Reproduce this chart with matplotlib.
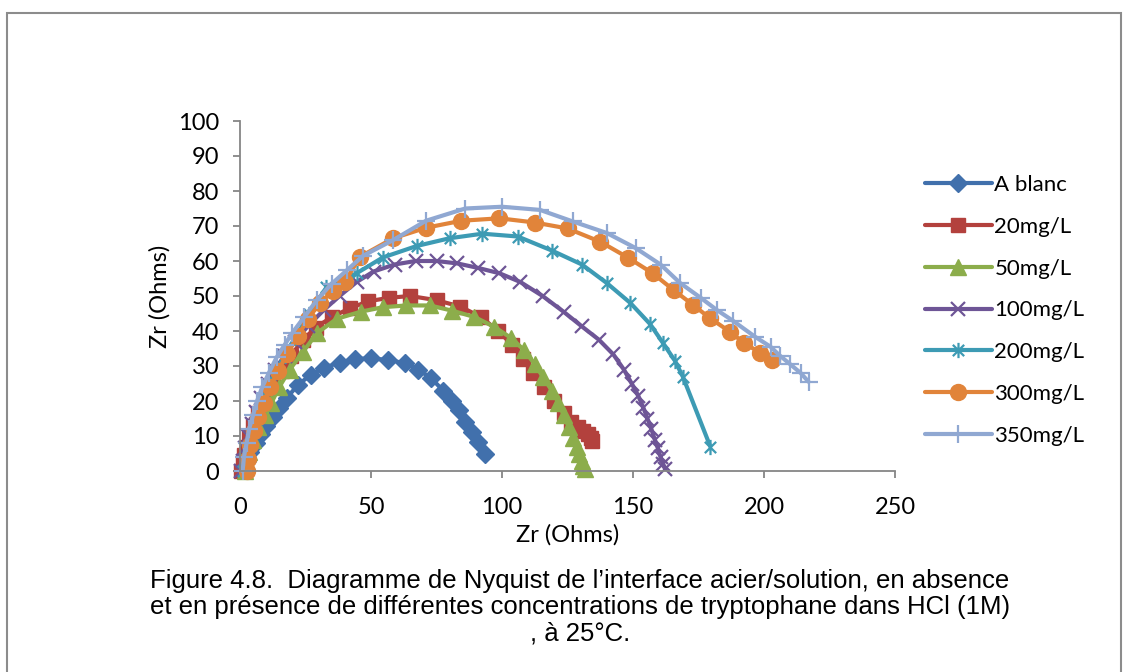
import matplotlib
matplotlib.use("Agg")
import matplotlib.pyplot as plt
from matplotlib.path import Path
from matplotlib.patches import Rectangle

# ---- data ----
labels = ["A blanc", "20mg/L", "50mg/L", "100mg/L", "200mg/L", "300mg/L", "350mg/L"]

x_blanc = [1.5, 2.5, 4, 6, 8, 10, 12.5, 15, 18, 22, 27, 32, 38, 44, 50, 56.5, 63, 68, 73, 77.5, 81, 83.5, 86, 88.5, 91, 93.5]
y_blanc = [0.5, 3, 5.5, 8, 10.5, 13, 15.5, 18, 21, 24.5, 27.5, 29.5, 31, 32, 32.2, 31.7, 30.8, 29, 26.5, 23, 20, 17.3, 14, 11.2, 8.3, 5]

x_20 = [0.5, 1, 1.5, 2.5, 3.5, 5, 7, 9.5, 12.5, 16, 19.5, 24, 29, 35, 42, 49, 57, 65, 75, 84, 92, 98.5, 104, 108, 112, 116, 120, 123.5, 126.5, 129, 131, 133, 134, 134.5]
y_20 = [0, 2, 4.5, 7, 10, 13, 16.5, 20, 24, 28.5, 33, 37.5, 41, 44, 46.5, 48.5, 49.5, 50, 48.8, 47, 44, 40, 36, 32, 28, 24, 20, 16.5, 14, 12.5, 11.5, 10.5, 9.5, 8.5]

x_50 = [2, 2.5, 3.5, 5, 7, 9.5, 12, 15, 19, 24, 29.5, 37, 46, 54.5, 63.5, 72.5, 81, 89.5, 97, 103.5, 108.5, 112.5, 115.5, 119, 121.5, 123.5, 125.5, 127, 128.5, 129.5, 130.5, 131, 131.5]
y_50 = [0, 2.5, 5.5, 9, 12.5, 16, 19.5, 24, 29, 34, 39.5, 43.5, 45.5, 46.8, 47.3, 47.3, 45.8, 44, 41.2, 38, 34.5, 30.5, 27, 23, 19.5, 16, 12.5, 9.5, 7, 5, 3, 1.5, 0.5]

x_100 = [0.5, 1, 2, 3, 4.5, 6, 8, 10.5, 13.5, 17, 21, 26, 32, 38, 44.5, 51, 59, 67, 75, 83, 91, 99, 107, 115.5, 123.5, 130.5, 137, 142.5, 146.5, 149.5, 152, 154, 155.5, 157, 158.3, 159.5, 160.5, 161.5, 162.3]
y_100 = [0, 3, 6.5, 10, 13.5, 17, 21, 25, 29, 33, 37, 41.5, 46, 50, 54, 57, 59, 60, 60, 59.3, 58, 56.5, 54, 50, 45.5, 41.3, 37.5, 33.3, 29, 25, 21.5, 18, 15, 12, 9, 6.5, 4, 2, 0.5]

x_200 = [1, 2, 3, 4.5, 6, 8, 10.5, 13.5, 17, 21, 26.5, 33, 44.5, 54.5, 67.5, 80, 92.5, 106, 119, 130.5, 140, 149, 156.5, 161.5, 166, 169, 179.5]
y_200 = [0, 3.5, 7, 11, 15, 19, 23.5, 28, 33, 38, 45, 52.5, 56.5, 61, 64.3, 66.5, 67.8, 67, 63, 59, 53.7, 48, 42, 36.5, 31.5, 27, 7]

x_300 = [2.5, 3, 4, 5.5, 7, 9, 11.5, 14.5, 18, 22, 26, 30.5, 35.5, 40, 45.8, 58.5, 71, 84.5, 99, 112.5, 125, 137.5, 148, 157.5, 165.5, 173, 179.5, 187, 192.5, 198.5, 203]
y_300 = [0, 3.5, 7.5, 11.5, 15.5, 19.5, 24, 28.5, 33.5, 38.5, 43.5, 48, 51.5, 54, 61.2, 66.5, 69.5, 71.5, 72.2, 71, 69.3, 65.5, 61, 56.5, 51.7, 47.4, 43.6, 39.8, 36.5, 33.8, 31.8]

x_350 = [1, 1.5, 2.5, 3.5, 5, 6.5, 8.5, 11, 14, 17, 20, 24.5, 29.5, 35, 41, 47, 58.5, 71, 86, 100, 114.5, 127, 140, 151, 160.5, 168, 176, 182, 188, 196.5, 202.5, 206, 210, 214, 217]
y_350 = [0, 4, 8, 12, 16, 20, 24, 28, 32.5, 36, 39.5, 44, 49, 53.5, 57.5, 61.5, 66, 71.5, 75, 75.5, 74.6, 71.3, 68, 63.7, 59, 53.7, 49.4, 46, 43, 38.4, 35.5, 33, 30.5, 28, 25.5]

x_ticks = [0, 50, 100, 150, 200, 250]
y_ticks = [0, 10, 20, 30, 40, 50, 60, 70, 80, 90, 100]

caption = ("Figure 4.8.  Diagramme de Nyquist de l\u2019interface acier/solution, en absence\n"
           "et en pr\u00e9sence de diff\u00e9rentes concentrations de tryptophane dans HCl (1M)\n"
           ", \u00e0 25\u00b0C.")

# ---- styles ----
colors = ["#4170AC", "#B3413D", "#8CAD4B", "#6E5596", "#3D9BB4", "#E1843A", "#90A8D2"]
asterisk = Path([(-1, -1), (1, 1), (-1, 1), (1, -1), (0, -1.35), (0, 1.35)],
                [Path.MOVETO, Path.LINETO, Path.MOVETO, Path.LINETO, Path.MOVETO, Path.LINETO])
markers = ["D", "s", "^", "x", asterisk, "o", "+"]
msizes = [9.5, 10, 11, 10, 11, 11.5, 12.5]
mews = [1, 1, 1, 1.6, 1.6, 1, 1.6]

plt.rcParams["font.family"] = ["Lato", "DejaVu Sans"]

fig = plt.figure(figsize=(11.3, 6.72), dpi=100)
W, H = 1130, 672
ax = fig.add_axes([240 / W, 1 - 471 / H, (895 - 240) / W, (471 - 121) / H])

series = [(x_blanc, y_blanc), (x_20, y_20), (x_50, y_50), (x_100, y_100),
          (x_200, y_200), (x_300, y_300), (x_350, y_350)]
for (xs, ys), lab, c, m, ms, mew in zip(series, labels, colors, markers, msizes, mews):
    ax.plot(xs, ys, color=c, lw=3.0, marker=m, ms=ms, mfc=c, mec=c, mew=mew,
            label=lab, clip_on=False, solid_capstyle="round")

ax.set_xlim(0, 250)
ax.set_ylim(0, 100)
ax.set_xticks(x_ticks)
ax.set_yticks(y_ticks)
for s in ["top", "right"]:
    ax.spines[s].set_visible(False)
for s in ["left", "bottom"]:
    ax.spines[s].set_color("#868686")
    ax.spines[s].set_linewidth(1.3)
ax.tick_params(axis="both", direction="out", length=5, width=1.3, color="#868686",
               labelsize=17, labelcolor="black")
ax.tick_params(axis="x", pad=14)
ax.tick_params(axis="y", pad=10)
ax.set_xlabel("Zr (Ohms)", fontsize=17, labelpad=4)
ax.set_ylabel("Zr (Ohms)", fontsize=17, labelpad=5)

leg = fig.legend(loc="upper left", bbox_to_anchor=(925 / W, 1 - 175 / H), frameon=False,
                 fontsize=16, handlelength=3.0, handletextpad=0.12, labelspacing=0.98,
                 borderpad=0, borderaxespad=0)

fig.text(580 / W, 1 - 607 / H, caption, ha="center", va="center", fontsize=18.5,
         family=["Liberation Sans", "DejaVu Sans"], linespacing=1.12)

fig.patches.append(Rectangle((7 / W, -0.02), (1121 - 7) / W, 1.02 - 13 / H,
                             transform=fig.transFigure, fill=False,
                             edgecolor="#8C8C8C", lw=1.5))

fig.savefig("out.png", dpi=100)
